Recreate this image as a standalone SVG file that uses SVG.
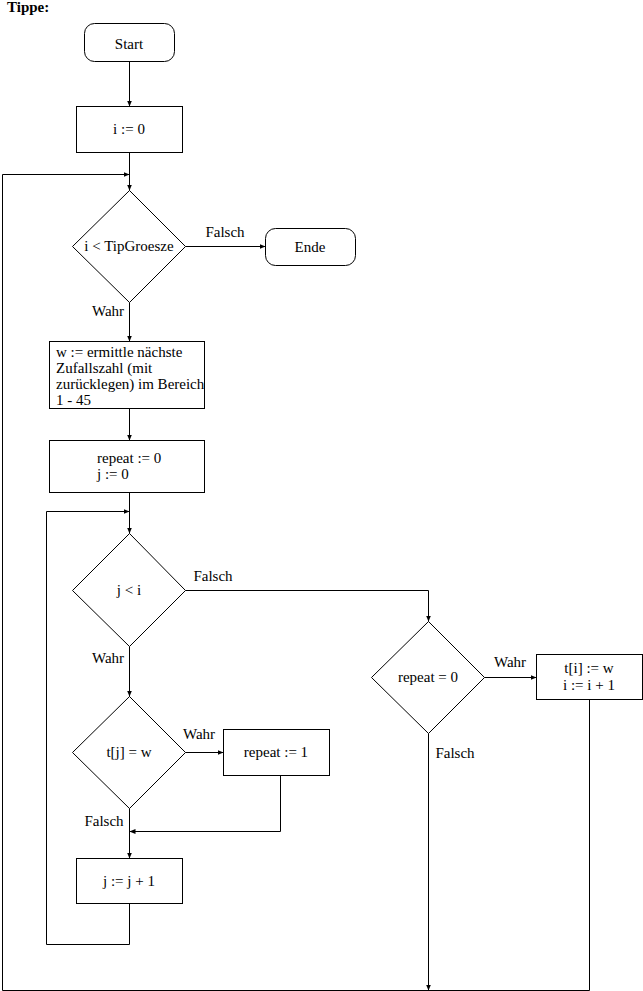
<svg xmlns="http://www.w3.org/2000/svg" width="643" height="991" viewBox="0 0 643 991">
<defs>
<marker id="ah" markerWidth="6" markerHeight="6" refX="6" refY="3" orient="auto" markerUnits="userSpaceOnUse">
<path d="M0,0.5 L6,3 L0,5.5 z" fill="#000"/>
</marker>
</defs>
<style>
.s{fill:#fff;stroke:#000;stroke-width:1}
.t{font-family:"Liberation Serif","Times New Roman",serif;font-size:15px;fill:#000}
.c{text-anchor:middle}
.l{fill:none;stroke:#000;stroke-width:1}
</style>
<rect width="643" height="991" fill="#fff"/>
<text x="7" y="12" class="t" style="font-weight:bold;font-size:15px">Tippe:</text>
<g id="start"><rect class="s" x="84.5" y="23.5" width="90" height="38" rx="10"/><text class="t c" x="129" y="49">Start</text></g>
<g id="init"><rect class="s" x="76.5" y="106.5" width="106" height="46"/><text class="t c" x="129" y="134">i := 0</text></g>
<g id="cond1"><polygon class="s" points="129.5,190.5 185.5,246.5 129.5,302.5 72.5,246.5"/><text class="t c" x="129" y="251">i &lt; TipGroesze</text></g>
<g id="ende"><rect class="s" x="265.5" y="228.5" width="90" height="37" rx="10"/><text class="t c" x="310" y="252">Ende</text></g>
<g id="zufall"><rect class="s" x="49.5" y="341.5" width="155" height="67"/>
<text class="t" x="56" y="357">w := ermittle nächste</text>
<text class="t" x="56" y="373">Zufallszahl (mit</text>
<text class="t" x="56" y="389">zurücklegen) im Bereich</text>
<text class="t" x="56" y="405">1 - 45</text></g>
<g id="repinit"><rect class="s" x="49.5" y="440.5" width="155" height="52"/>
<text class="t" x="97" y="463">repeat := 0</text>
<text class="t" x="97" y="479">j := 0</text></g>
<g id="cond2"><polygon class="s" points="129.5,533.5 185.5,590.5 129.5,646.5 72.5,590.5"/><text class="t c" x="129" y="595">j &lt; i</text></g>
<g id="cond3"><polygon class="s" points="428.5,621.5 484.5,677.5 428.5,733.5 371.5,677.5"/><text class="t c" x="428" y="682">repeat = 0</text></g>
<g id="store"><rect class="s" x="536.5" y="654.5" width="106" height="45"/>
<text class="t c" x="589" y="673">t[i] := w</text>
<text class="t c" x="589" y="690">i := i + 1</text></g>
<g id="cond4"><polygon class="s" points="129.5,696.5 185.5,752.5 129.5,808.5 72.5,752.5"/><text class="t c" x="129" y="757">t[j] = w</text></g>
<g id="rep1"><rect class="s" x="223.5" y="729.5" width="106" height="46"/><text class="t c" x="276" y="757">repeat := 1</text></g>
<g id="jinc"><rect class="s" x="76.5" y="858.5" width="106" height="45"/><text class="t c" x="129" y="886">j := j + 1</text></g>
<g id="connectors">
<line class="l" x1="129.5" y1="61.5" x2="129.5" y2="106.5" marker-end="url(#ah)"/>
<line class="l" x1="129.5" y1="152.5" x2="129.5" y2="190.5" marker-end="url(#ah)"/>
<polyline class="l" points="589.5,699.5 589.5,990.5 2.5,990.5 2.5,174.5 129.5,174.5" marker-end="url(#ah)"/>
<line class="l" x1="185.5" y1="246.5" x2="265.5" y2="246.5" marker-end="url(#ah)"/>
<line class="l" x1="129.5" y1="302.5" x2="129.5" y2="341.5" marker-end="url(#ah)"/>
<line class="l" x1="129.5" y1="408.5" x2="129.5" y2="440.5" marker-end="url(#ah)"/>
<line class="l" x1="129.5" y1="492.5" x2="129.5" y2="533.5" marker-end="url(#ah)"/>
<polyline class="l" points="129.5,903.5 129.5,944.5 46.5,944.5 46.5,511.5 129.5,511.5" marker-end="url(#ah)"/>
<polyline class="l" points="185.5,590.5 428.5,590.5 428.5,621.5" marker-end="url(#ah)"/>
<line class="l" x1="484.5" y1="677.5" x2="536.5" y2="677.5" marker-end="url(#ah)"/>
<line class="l" x1="428.5" y1="733.5" x2="428.5" y2="990.5" marker-end="url(#ah)"/>
<line class="l" x1="129.5" y1="646.5" x2="129.5" y2="696.5" marker-end="url(#ah)"/>
<line class="l" x1="185.5" y1="752.5" x2="223.5" y2="752.5" marker-end="url(#ah)"/>
<polyline class="l" points="280.5,775.5 280.5,831.5 129.5,831.5" marker-end="url(#ah)"/>
<line class="l" x1="129.5" y1="808.5" x2="129.5" y2="858.5" marker-end="url(#ah)"/>
<text class="t c" x="225" y="237">Falsch</text>
<text class="t c" x="108" y="316">Wahr</text>
<text class="t c" x="213" y="581">Falsch</text>
<text class="t c" x="108" y="663">Wahr</text>
<text class="t c" x="510" y="667">Wahr</text>
<text class="t c" x="455" y="758">Falsch</text>
<text class="t c" x="199" y="739">Wahr</text>
<text class="t c" x="104" y="826">Falsch</text>
</g>
</svg>
